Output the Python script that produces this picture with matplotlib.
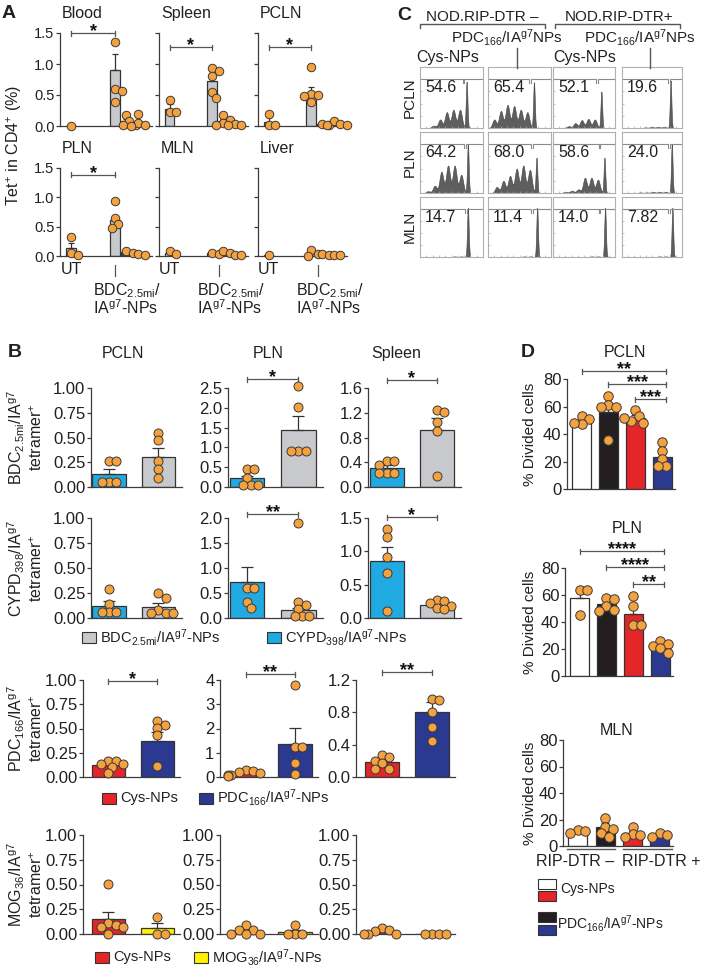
import numpy as np
import matplotlib
matplotlib.use('Agg')
import matplotlib.pyplot as plt
from matplotlib.patches import Rectangle
from matplotlib.lines import Line2D
from matplotlib.transforms import blended_transform_factory

W, H = 708, 973
plt.rcParams['font.family'] = ['Liberation Sans', 'DejaVu Sans']
plt.rcParams['mathtext.default'] = 'regular'
plt.rcParams['text.color'] = '#231f20'
plt.rcParams['ytick.labelcolor'] = '#231f20'

DOT = '#f4a13f'
EDGE = '#333333'
SPINE = '#3c3c3c'
GREY = '#c8c9cd'
BLUE = '#21a9e1'
RED = '#e52629'
NAVY = '#2b3990'
YELLOW = '#fff200'
BLACK = '#231f20'

# ---------------- data: panel A ----------------
a_titles = ['Blood', 'Spleen', 'PCLN', 'PLN', 'MLN', 'Liver']
a_pos = [0, 4, 5, 6.1]
a_colors = [GREY, GREY, NAVY, BLACK]
a_means = [[0.0, 0.9, 0.08, 0.06], [0.27, 0.72, 0.08, 0.02], [0.07, 0.53, 0.03, 0.04],
           [0.13, 0.62, 0.06, 0.02], [0.05, 0.05, 0.06, 0.01], [0.01, 0.05, 0.02, 0.01]]
a_errs = [[0, 0.26, 0.03, 0.03], [0.08, 0.1, 0.03, 0.01], [0.07, 0.1, 0.01, 0.01],
          [0.1, 0.07, 0.02, 0.01], [0.02, 0.01, 0.02, 0], [0, 0.02, 0.01, 0]]
a_dots = [
    [[0.0], [1.35, 0.6, 0.57, 0.38], [0.17, 0.08, 0.02, 0.02], [0.19, 0.05, 0.02, 0.0]],
    [[0.42, 0.22, 0.22], [0.93, 0.88, 0.8, 0.55, 0.45], [0.17, 0.1, 0.05, 0.02], [0.03, 0.01, 0.01]],
    [[0.2, 0.02, 0.02], [0.95, 0.52, 0.5, 0.48, 0.38], [0.04, 0.02], [0.08, 0.04, 0.02, 0.01]],
    [[0.33, 0.05, 0.02], [0.93, 0.65, 0.55, 0.47], [0.08, 0.05], [0.03, 0.01]],
    [[0.08, 0.03], [0.05, 0.03], [0.09, 0.05], [0.01, 0.01]],
    [[0.01], [0.1, 0.04, 0.0], [0.03, 0.02], [0.02, 0.01]],
]
a_sig_px = [33, 47, 47, 175, None, None]

# ---------------- data: panel B ----------------
b_cols = ['PCLN', 'PLN', 'Spleen']
b_ylabels = ['BDC$_{2.5mi}$/IA$^{g7}$\ntetramer$^{+}$', 'CYPD$_{398}$/IA$^{g7}$\ntetramer$^{+}$',
             'PDC$_{166}$/IA$^{g7}$\ntetramer$^{+}$', 'MOG$_{36}$/IA$^{g7}$\ntetramer$^{+}$']
b_colors = [[BLUE, GREY], [BLUE, GREY], [RED, NAVY], [RED, YELLOW]]
b_ymax = [[1.0, 2.5, 1.6], [1.0, 2.0, 1.5], [1.0, 4.0, 1.2], [1.0, 1.0, 1.0]]
b_ystep = [[0.25, 0.5, 0.4], [0.25, 0.5, 0.5], [0.25, 1, 0.4], [0.25, 0.25, 0.25]]
b_ydec = [[2, 1, 1], [2, 1, 1], [2, 0, 1], [2, 2, 2]]
b_means = [[[0.13, 0.30], [0.22, 1.45], [0.31, 0.92]],
           [[0.12, 0.11], [0.73, 0.16], [0.85, 0.20]],
           [[0.12, 0.375], [0.16, 1.38], [0.18, 0.80]],
           [[0.155, 0.057], [0.035, 0.02], [0.02, 0.0]]]
b_errs = [[[0.05, 0.09], [0.06, 0.34], [0.05, 0.19]],
          [[0.05, 0.04], [0.3, 0.05], [0.21, 0.03]],
          [[0.015, 0.085], [0.04, 0.65], [0.025, 0.13]],
          [[0.065, 0.055], [0.015, 0.025], [0.01, 0.0]]]
b_dots = [
    [[[0.26, 0.26, 0.05, 0.05, 0.05], [0.55, 0.47, 0.26, 0.18, 0.09]],
     [[0.45, 0.45, 0.23, 0.06, 0.06, 0.06], [2.55, 2.03, 0.9, 0.9, 0.9]],
     [[0.42, 0.42, 0.36, 0.22, 0.22, 0.22], [1.25, 1.22, 1.05, 0.9, 0.18]]],
    [[[0.29, 0.14, 0.06, 0.06, 0.06], [0.25, 0.2, 0.08, 0.05, 0.05, 0.05]],
     [[0.61, 0.61, 0.33, 0.21], [1.91, 0.32, 0.27, 0.18, 0.05, 0.05, 0.05]],
     [[1.33, 1.21, 0.91, 0.68, 0.1], [0.27, 0.25, 0.22, 0.18, 0.15, 0.13]]],
    [[[0.16, 0.16, 0.13, 0.13, 0.1, 0.04], [0.58, 0.54, 0.51, 0.43, 0.11]],
     [[0.3, 0.26, 0.2, 0.15, 0.1, 0.08, 0.06], [3.8, 1.25, 1.25, 0.56, 0.12]],
     [[0.27, 0.25, 0.2, 0.17, 0.1, 0.1], [0.97, 0.95, 0.8, 0.62, 0.45]]],
    [[[0.51, 0.11, 0.09, 0.07, 0.07, 0.0], [0.17, 0.0, 0.0]],
     [[0.095, 0.045, 0.045, 0.0, 0.0, 0.0], [0.09, 0.0, 0.0, 0.0]],
     [[0.06, 0.04, 0.03, 0.0, 0.0, 0.0], [0.0, 0.0, 0.0, 0.0]]],
]
b_sigs = [(0, 1, '*', 379), (0, 2, '*', 380), (1, 1, '**', 514), (1, 2, '*', 517),
          (2, 0, '*', 681), (2, 1, '**', 674), (2, 2, '**', 672)]
b_legends = [
    (637, [(GREY, 'BDC$_{2.5mi}$/IA$^{g7}$-NPs', 82), (BLUE, 'CYPD$_{398}$/IA$^{g7}$-NPs', 267)]),
    (798, [(RED, 'Cys-NPs', 102), (NAVY, 'PDC$_{166}$/IA$^{g7}$-NPs', 199)]),
    (957, [(RED, 'Cys-NPs', 95), (YELLOW, 'MOG$_{36}$/IA$^{g7}$-NPs', 194)]),
]

# ---------------- data: panel C ----------------
c_rows = ['PCLN', 'PLN', 'MLN']
c_numbers = [['54.6', '65.4', '52.1', '19.6'], ['64.2', '68.0', '58.6', '24.0'],
             ['14.7', '11.4', '14.0', '7.82']]
c_peak = [[0.74, 0.73, 0.78, 0.81], [0.76, 0.77, 0.83, 0.83], [0.76, 0.78, 0.84, 0.84]]
c_gate = [[0.69, 0.67, 0.71, 0.78], [0.72, 0.7, 0.75, 0.78], [0.73, 0.7, 0.75, 0.78]]
# peak heights per division: gen6 ... gen1, undivided
c_heights = [
    [[0.0, 0.04, 0.14, 0.26, 0.3, 0.3, 0.76], [0.14, 0.28, 0.38, 0.36, 0.3, 0.26, 0.75],
     [0.0, 0.03, 0.08, 0.13, 0.15, 0.14, 0.6], [0.0, 0.0, 0.01, 0.02, 0.02, 0.02, 0.78]],
    [[0.03, 0.12, 0.35, 0.45, 0.45, 0.3, 0.8], [0.1, 0.2, 0.28, 0.4, 0.45, 0.38, 0.58],
     [0.02, 0.04, 0.06, 0.25, 0.25, 0.22, 0.58], [0.0, 0.01, 0.01, 0.02, 0.02, 0.02, 0.8]],
    [[0.0, 0.0, 0.0, 0.0, 0.01, 0.01, 0.82], [0.0, 0.0, 0.0, 0.0, 0.01, 0.01, 0.82],
     [0.0, 0.0, 0.0, 0.0, 0.01, 0.01, 0.82], [0.0, 0.0, 0.0, 0.0, 0.01, 0.01, 0.82]],
]

# ---------------- data: panel D ----------------
d_titles = ['PCLN', 'PLN', 'MLN']
d_colors = ['white', BLACK, RED, NAVY]
d_means = [[49.5, 56, 52, 23], [58, 53.5, 46, 21], [10, 14, 9.5, 7.5]]
d_errs = [[2, 6, 2, 3.5], [6, 2, 5.5, 2], [1, 3, 2, 1]]
d_dots = [
    [[53, 51, 47.5, 48], [68, 61, 60, 60, 36], [57.5, 53, 49.5, 48, 52], [34, 27.5, 22, 17, 16.5]],
    [[64, 63.5, 45.5], [58, 57, 52, 49, 48], [59, 52, 38, 37.5], [26, 24, 22, 20.5, 17]],
    [[12, 11, 9.5], [21.5, 14.5, 13, 9.5, 7], [14.5, 9, 8, 7], [9.5, 8, 7]],
]
d_sigs = [[(0, 3, '**', 371), (1, 3, '***', 384), (2, 3, '***', 399)],
          [(0, 3, '****', 551), (1, 3, '****', 567), (2, 3, '**', 584)],
          []]

fig = plt.figure(figsize=(W / 100, H / 100), dpi=100)


def px_axes(l, t, r, b):
    ax = fig.add_axes([l / W, 1 - b / H, (r - l) / W, (b - t) / H])
    ax._px = (l, t, r, b)
    return ax


def ya(ax, y_px):
    l, t, r, b = ax._px
    return (b - y_px) / (b - t)


def ftext(x, y, s, **kw):
    fig.text(x / W, 1 - y / H, s, **kw)


def fline(xs, ys, **kw):
    kw.setdefault('color', '#555555')
    kw.setdefault('lw', 1.0)
    fig.add_artist(Line2D([x / W for x in xs], [1 - y / H for y in ys], **kw))


def frect(l, t, r, b, fc):
    fig.add_artist(Rectangle((l / W, 1 - b / H), (r - l) / W, (b - t) / H,
                             facecolor=fc, edgecolor=EDGE, lw=0.8))


def style(ax, fs):
    for s in ['top', 'right']:
        ax.spines[s].set_visible(False)
    for s in ['left', 'bottom']:
        ax.spines[s].set_color(SPINE)
        ax.spines[s].set_linewidth(0.9)
    ax.tick_params(axis='y', length=3, width=0.9, color=SPINE, labelsize=fs, pad=1)
    ax.set_xticks([])


def swarm(ax, vals, diam):
    # simple beeswarm: dots at similar heights are set side by side
    l, t, r, b = ax._px
    x0, x1 = ax.get_xlim()
    y0, y1 = ax.get_ylim()
    sx = (r - l) / (x1 - x0)
    sy = (b - t) / (y1 - y0)
    placed, offs = [], []
    for v in vals:
        py = v * sy
        for k in [0, 1, -1, 2, -2, 3, -3, 4, -4, 5, -5]:
            px = k * diam * 0.4
            if all((px - qx) ** 2 + (py - qy) ** 2 >= (diam * 0.75) ** 2 for qx, qy in placed):
                break
        placed.append((px, py))
        offs.append(px / sx)
    return np.array(offs)


def bars(ax, pos, means, errs, dots, colors, width, capsize, diam):
    for x, m, e, d, c in zip(pos, means, errs, dots, colors):
        ax.bar(x, m, width, color=c, edgecolor=EDGE, linewidth=0.9, zorder=2)
        if e > 0:
            ax.errorbar(x, m, yerr=[[0], [e]], fmt='none', ecolor=EDGE, elinewidth=0.9,
                        capsize=capsize, capthick=0.9, zorder=3)
        ax.scatter(x + swarm(ax, d, diam), d, s=(diam * 0.72) ** 2, color=DOT,
                   edgecolors='#3a3a3a', linewidths=0.7, zorder=4, clip_on=False)


def bracket(ax, x0, x1, y_px, label, fs=13):
    tr = blended_transform_factory(ax.transData, ax.transAxes)
    y = ya(ax, y_px)
    d = ya(ax, y_px - 2.5) - y
    ax.plot([x0, x1], [y, y], color='#555555', lw=0.9, transform=tr, clip_on=False)
    for xx in (x0, x1):
        ax.plot([xx, xx], [y - d, y + d], color='#555555', lw=0.9, transform=tr, clip_on=False)
    ax.text((x0 + x1) / 2, ya(ax, y_px + 3), label, transform=tr, ha='center', va='baseline',
            fontsize=fs, fontweight='bold', color='#111111')


# ================= Panel A =================
ftext(2, 18, 'A', fontsize=14, fontweight='bold')
a_cols_px = [(60, 152), (159, 248), (258, 347)]
a_rows_px = [(33, 126), (168, 256)]
for i in range(6):
    r, c = divmod(i, 3)
    l, rr = a_cols_px[c]
    t, b = a_rows_px[r]
    ax = px_axes(l, t, rr, b)
    ax.set_xlim(-1, 7.36)
    ax.set_ylim(0, 1.5)
    style(ax, 10.5)
    ax.set_yticks([0, 0.5, 1.0, 1.5])
    if c == 0:
        ax.set_yticklabels(['0.0', '0.5', '1.0', '1.5'])
    else:
        ax.set_yticklabels([])
    bars(ax, a_pos, a_means[i], a_errs[i], a_dots[i], a_colors, 0.9, 2.5, 8.5)
    ftext(l + 2, t - 15, a_titles[i], fontsize=11.5, va='baseline')
    if a_sig_px[i] is not None:
        bracket(ax, a_pos[0], a_pos[1], a_sig_px[i], '*')
    if r == 1:
        tr = blended_transform_factory(ax.transData, ax.transAxes)
        ax.text(0, ya(ax, 270), 'UT', transform=tr, ha='center', va='center', fontsize=11.5)
        xt = 4 if c == 0 else 4.6
        ax.plot([xt, xt], [ya(ax, 265), ya(ax, 276)], color='#555555', lw=0.9,
                transform=tr, clip_on=False)
        ax.text(xt - 2.0, ya(ax, 291), 'BDC$_{2.5mi}$/', transform=tr, ha='left',
                va='center', fontsize=11.5)
        ax.text(xt - 2.0, ya(ax, 308), 'IA$^{g7}$-NPs', transform=tr, ha='left',
                va='center', fontsize=11.5)
ftext(14, 145, 'Tet$^{+}$ in CD4$^{+}$ (%)', rotation=90, ha='center', va='center', fontsize=11.5)

# ================= Panel B =================
ftext(8, 357, 'B', fontsize=14, fontweight='bold')
for c, name, xc in zip(range(3), b_cols, [123, 268, 396]):
    ftext(xc, 358, name, ha='center', va='baseline', fontsize=11.5)
b_rows_px = [(388, 487), (518, 618), (680, 777), (835, 934)]
b_cols_px = [[(91, 182), (228, 323), (368, 461)], [(91, 182), (228, 323), (368, 461)],
             [(83, 180), (220, 318), (356, 455)], [(83, 180), (220, 318), (356, 455)]]
b_xlim = [(-0.37, 1.48), (-0.37, 1.48), (-0.52, 1.46), (-0.52, 1.46)]
b_axes = {}
for r in range(4):
    t, b = b_rows_px[r]
    for c in range(3):
        l, rr = b_cols_px[r][c]
        ax = px_axes(l, t, rr, b)
        ax.set_xlim(*b_xlim[r])
        ymax = b_ymax[r][c]
        ax.set_ylim(0, ymax)
        style(ax, 12)
        ticks = np.arange(0, ymax + 1e-9, b_ystep[r][c])
        ax.set_yticks(ticks)
        ax.set_yticklabels([f'{v:.{b_ydec[r][c]}f}' for v in ticks])
        bars(ax, [0, 1], b_means[r][c], b_errs[r][c], b_dots[r][c], b_colors[r], 0.68, 4, 9)
        b_axes[(r, c)] = ax
    ftext(25, (t + b) / 2, b_ylabels[r], rotation=90, ha='center', va='center',
          multialignment='center', fontsize=11.5, linespacing=1.1)
for r, c, lab, ypx in b_sigs:
    bracket(b_axes[(r, c)], 0, 1, ypx, lab)
for yc, items in b_legends:
    for col, lab, x0 in items:
        frect(x0, yc - 5.5, x0 + 14, yc + 5.5, col)
        ftext(x0 + 18, yc, lab, ha='left', va='center', fontsize=10.5)

# ================= Panel C =================
ftext(397, 20, 'C', fontsize=14, fontweight='bold')
ftext(482, 21, 'NOD.RIP-DTR \u2013', ha='center', va='baseline', fontsize=11)
ftext(619, 21, 'NOD.RIP-DTR+', ha='center', va='baseline', fontsize=11)
fline([420, 420, 545, 545], [28, 24, 24, 28])
fline([555, 555, 680, 680], [28, 24, 24, 28])
for xc, xl in [(448, 517), (585, 650)]:
    ftext(xc, 62, 'Cys-NPs', ha='center', va='baseline', fontsize=11.5)
    ftext(xl - 10, 43, 'PDC$_{166}$/IA$^{g7}$NPs', ha='center', va='baseline', fontsize=11)
    fline([xl, xl], [48, 68])
c_cols_px = [(420, 483), (488, 551), (553, 615), (622, 682)]
c_rows_px = [(67, 128), (132, 193), (197, 257)]
xs = np.linspace(0, 1, 500)
for r in range(3):
    t, b = c_rows_px[r]
    ftext(410, (t + b) / 2, c_rows[r], rotation=90, ha='center', va='center', fontsize=11)
    for c in range(4):
        l, rr = c_cols_px[c]
        ax = px_axes(l, t, rr, b)
        ax.set_xlim(0, 1)
        ax.set_ylim(0, 1)
        hs = c_heights[r][c]
        pk = c_peak[r][c]
        ys = np.zeros_like(xs)
        for k, h in enumerate(hs):
            gen = len(hs) - 1 - k
            mu = pk - 0.105 * gen
            sig = 0.013 if gen == 0 else 0.03
            ys += h * np.exp(-0.5 * ((xs - mu) / sig) ** 2)
        ax.fill_between(xs, ys, color='#5e5e5e', lw=0.4, edgecolor='#444444')
        for s in ax.spines.values():
            s.set_color('#b0b0b0')
            s.set_linewidth(0.8)
        ax.set_xticks(np.linspace(0, 1, 11))
        ax.set_yticks(np.linspace(0, 1, 6))
        ax.tick_params(length=1.5, width=0.5, color='#aaaaaa', labelbottom=False,
                       labelleft=False, direction='in')
        g = c_gate[r][c]
        gy, gd = 0.8, 0.07
        ax.plot([0, g - 0.015, g - 0.015], [gy, gy, gy - gd], color='#8a8a8a', lw=0.8)
        ax.plot([g + 0.015, g + 0.015, 1], [gy - gd, gy, gy], color='#8a8a8a', lw=0.8)
        ax.text(0.08, 0.66, c_numbers[r][c], transform=ax.transAxes, ha='left',
                va='center', fontsize=11.5)

# ================= Panel D =================
ftext(521, 357, 'D', fontsize=14, fontweight='bold')
d_px = [(567, 379, 675, 489), (565, 568, 673, 676), (563, 740, 673, 846)]
d_title_px = [(625, 357), (627, 533), (617, 735)]
for i in range(3):
    ax = px_axes(*d_px[i])
    ax.set_xlim(-0.54, 3.48)
    ax.set_ylim(0, 80)
    style(ax, 12)
    ax.set_yticks([0, 20, 40, 60, 80])
    bars(ax, [0, 1, 2, 3], d_means[i], d_errs[i], d_dots[i], d_colors, 0.7, 3, 9.5)
    ftext(d_title_px[i][0], d_title_px[i][1], d_titles[i], ha='center', va='baseline', fontsize=11.5)
    l, t, rr, b = d_px[i]
    ftext(530, (t + b) / 2, '% Divided cells', rotation=90, ha='center', va='center', fontsize=11)
    for x0, x1, lab, ypx in d_sigs[i]:
        bracket(ax, x0, x1 + 0.15, ypx, lab)
fline([567, 615], [849, 849])
fline([623, 672], [849, 849])
ftext(575, 862, 'RIP-DTR \u2013', ha='center', va='center', fontsize=11.5)
ftext(661, 862, 'RIP-DTR +', ha='center', va='center', fontsize=11.5)
frect(538, 879, 556, 889, 'white')
frect(538, 891, 556, 901, RED)
ftext(560, 889, 'Cys-NPs', ha='left', va='center', fontsize=10)
frect(538, 912, 556, 922, BLACK)
frect(538, 925, 556, 935, NAVY)
ftext(557, 923, 'PDC$_{166}$/IA$^{g7}$-NPs', ha='left', va='center', fontsize=10)

fig.savefig('out.png', dpi=100, facecolor='white')
